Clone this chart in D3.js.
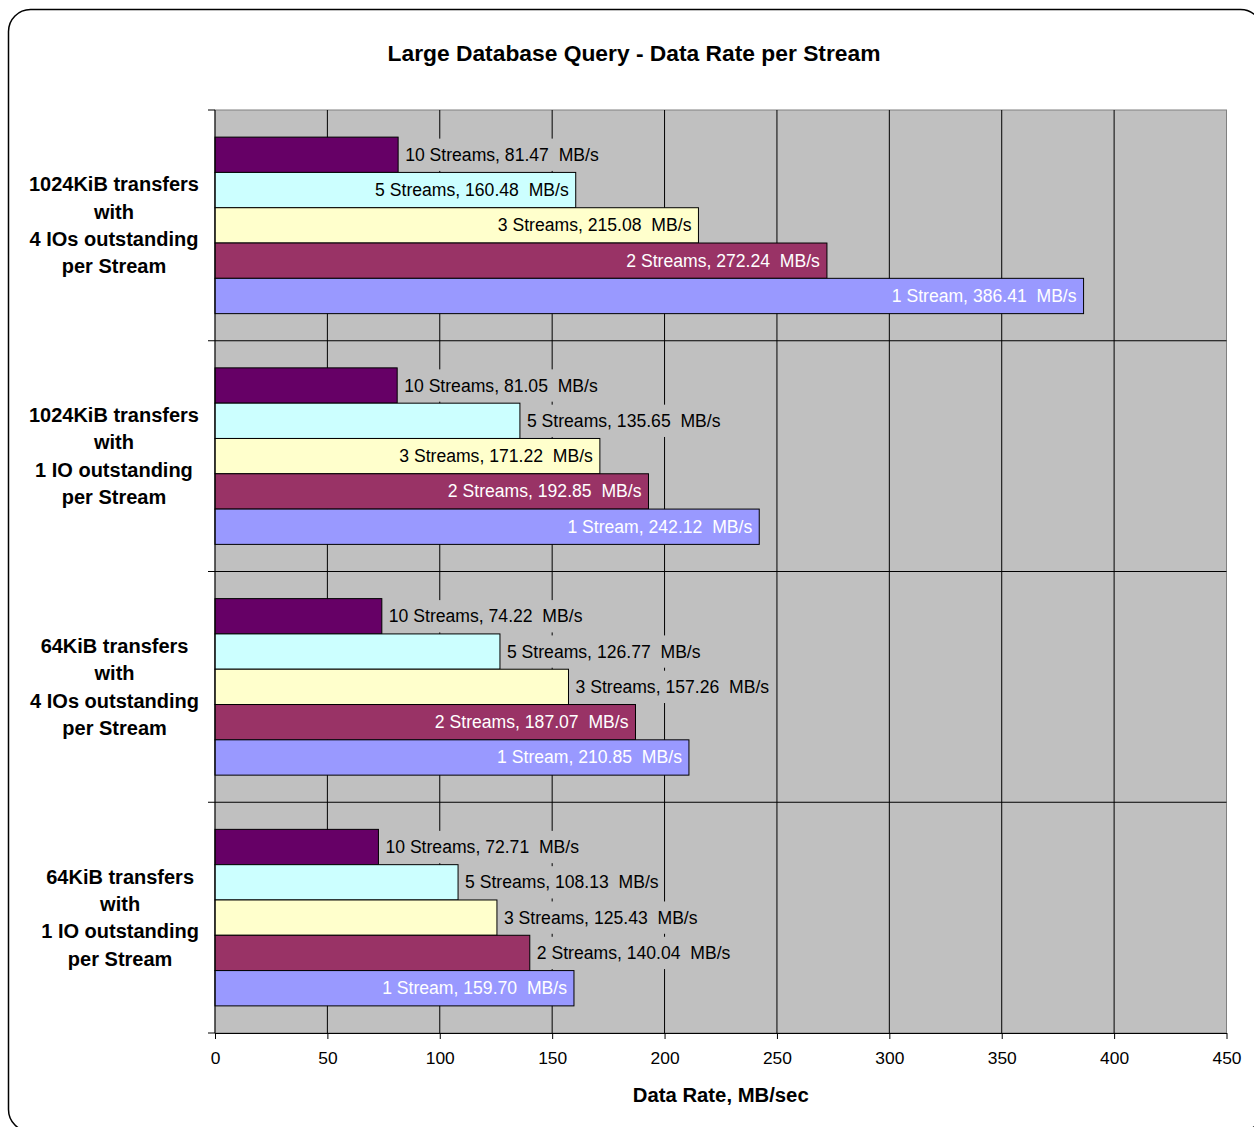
<!DOCTYPE html>
<html>
<head>
<meta charset="utf-8">
<script src="https://cdn.jsdelivr.net/npm/d3@7"></script>
<style>
  body { margin: 0; background: #fff; }
  svg { display: block; font-family: "Liberation Sans", Arial, sans-serif; }
</style>
</head>
<body>
<div id="chart"></div>
<script>
// groups top to bottom, each label split into lines
const groups = [
    ["1024KiB transfers", "with", "4 IOs outstanding", "per Stream"],
    ["1024KiB transfers", "with", "1 IO outstanding", "per Stream"],
    ["64KiB transfers", "with", "4 IOs outstanding", "per Stream"],
    ["64KiB transfers", "with", "1 IO outstanding", "per Stream"]
];

// series, drawn top to bottom inside each group
const seriesNames = ["10 Streams", "5 Streams", "3 Streams", "2 Streams", "1 Stream"];
const seriesColours = ["#660066", "#ccffff", "#ffffcc", "#993366", "#9999ff"];
const seriesTextInside = ["#000", "#000", "#000", "#fff", "#fff"];

// MB/s, one array per series, same order as groups
const streams10 = [81.47, 81.05, 74.22, 72.71];
const streams5 = [160.48, 135.65, 126.77, 108.13];
const streams3 = [215.08, 171.22, 157.26, 125.43];
const streams2 = [272.24, 192.85, 187.07, 140.04];
const streams1 = [386.41, 242.12, 210.85, 159.70];
const seriesValues = [streams10, streams5, streams3, streams2, streams1];

const xTicks = [0, 50, 100, 150, 200, 250, 300, 350, 400, 450];

// labels of shorter bars sit just past the bar end
const insideFrom = 158;

const W = 1254, H = 1127;
const plot = {left: 215, right: 1226.5, top: 110, bottom: 1033};
const plotFill = "#c0c0c0";

const svg = d3.select("#chart")
    .append("svg")
    .attr("width", W)
    .attr("height", H);

// outer frame
svg.append("rect")
    .attr("x", 8.5).attr("y", 9.5)
    .attr("width", 1254).attr("height", 1122)
    .attr("rx", 22).attr("ry", 22)
    .attr("fill", "#fff")
    .attr("stroke", "#000")
    .attr("stroke-width", 1.5);

// title
svg.append("text")
    .attr("x", 634).attr("y", 53)
    .attr("text-anchor", "middle")
    .attr("dominant-baseline", "central")
    .style("font-size", "22.8px")
    .style("font-weight", "bold")
    .text("Large Database Query - Data Rate per Stream");

// Scales
const x = d3.scaleLinear()
    .domain([0, 450])
    .range([plot.left, plot.right]);

const y = d3.scaleBand()
    .domain(d3.range(groups.length))
    .range([plot.top, plot.bottom]);

const ySub = d3.scaleBand()
    .domain(d3.range(seriesNames.length))
    .range([0, y.bandwidth()])
    .paddingOuter(0.768);

// plot background
svg.append("rect")
    .attr("x", plot.left).attr("y", plot.top)
    .attr("width", plot.right - plot.left)
    .attr("height", plot.bottom - plot.top)
    .attr("fill", plotFill)
    .attr("stroke", "#808080")
    .attr("stroke-width", 1);

// vertical gridlines
svg.append("g")
    .selectAll("line")
    .data(xTicks.slice(1, -1))
    .join("line")
    .attr("x1", d => x(d)).attr("x2", d => x(d))
    .attr("y1", plot.top).attr("y2", plot.bottom)
    .attr("stroke", "#000")
    .attr("stroke-width", 1);

// horizontal gridlines at group boundaries
svg.append("g")
    .selectAll("line")
    .data(d3.range(1, groups.length))
    .join("line")
    .attr("x1", plot.left).attr("x2", plot.right)
    .attr("y1", d => y(d)).attr("y2", d => y(d))
    .attr("stroke", "#000")
    .attr("stroke-width", 1);

// bars and labels
const flat = [];
groups.forEach((g, gi) => {
    seriesNames.forEach((s, si) => {
        flat.push({gi, si, value: seriesValues[si][gi]});
    });
});

svg.append("g")
    .selectAll("rect")
    .data(flat)
    .join("rect")
    .attr("x", x(0))
    .attr("y", d => y(d.gi) + ySub(d.si))
    .attr("width", d => x(d.value) - x(0))
    .attr("height", ySub.bandwidth())
    .attr("fill", d => seriesColours[d.si])
    .attr("stroke", "#000")
    .attr("stroke-width", 1);

const labelLayer = svg.append("g");
const labelBoxes = labelLayer.append("g");
const labels = labelLayer.append("g")
    .selectAll("text")
    .data(flat)
    .join("text")
    .attr("x", d => d.value >= insideFrom ? x(d.value) - 7 : x(d.value) + 7)
    .attr("y", d => y(d.gi) + ySub(d.si) + ySub.bandwidth() / 2)
    .attr("text-anchor", d => d.value >= insideFrom ? "end" : "start")
    .attr("dominant-baseline", "central")
    .attr("fill", d => d.value >= insideFrom ? seriesTextInside[d.si] : "#000")
    .style("font-size", "17.6px")
    .text(d => `${seriesNames[d.si]}, ${d.value.toFixed(2)}\u00a0 MB/s`);

// labels outside the bars get a box of the plot colour, hiding the grid
labels.filter(d => d.value < insideFrom).each(function (d) {
    const b = this.getBBox();
    labelBoxes.append("rect")
        .attr("x", b.x - 4)
        .attr("y", y(d.gi) + ySub(d.si) + 1.5)
        .attr("width", b.width + 8)
        .attr("height", ySub.bandwidth() - 3)
        .attr("fill", plotFill);
});

// left axis
const yAxis = svg.append("g");
yAxis.append("line")
    .attr("x1", plot.left).attr("x2", plot.left)
    .attr("y1", plot.top).attr("y2", plot.bottom)
    .attr("stroke", "#000");
yAxis.selectAll(".tick")
    .data(d3.range(groups.length + 1))
    .join("line")
    .attr("class", "tick")
    .attr("x1", plot.left - 7).attr("x2", plot.left)
    .attr("y1", d => d < groups.length ? y(d) : plot.bottom)
    .attr("y2", d => d < groups.length ? y(d) : plot.bottom)
    .attr("stroke", "#000");

// group labels, centred in a box whose right edge is fixed
const labelRight = 199;
const lineGap = 27.3;
groups.forEach((lines, gi) => {
    const t = svg.append("text")
        .style("font-size", "20px")
        .style("font-weight", "bold")
        .attr("text-anchor", "middle");
    const cy = y(gi) + y.bandwidth() / 2;
    lines.forEach((line, li) => {
        t.append("tspan")
            .attr("y", cy + (li - (lines.length - 1) / 2) * lineGap)
            .attr("dominant-baseline", "central")
            .text(line);
    });
    let maxW = 0;
    t.selectAll("tspan").each(function () {
        maxW = Math.max(maxW, this.getComputedTextLength());
    });
    t.selectAll("tspan").attr("x", labelRight - maxW / 2);
});

// bottom axis
const xAxis = svg.append("g")
    .attr("transform", `translate(0,${plot.bottom})`)
    .call(d3.axisBottom(x).tickValues(xTicks).tickSize(6).tickPadding(13).tickSizeOuter(0));
xAxis.select(".domain").attr("stroke", "#000");
xAxis.selectAll(".tick line").attr("stroke", "#000");
xAxis.selectAll(".tick text")
    .style("font-size", "17.4px")
    .style("font-family", "\"Liberation Sans\", Arial, sans-serif")
    .attr("fill", "#000");

svg.append("text")
    .attr("x", (plot.left + plot.right) / 2)
    .attr("y", 1095)
    .attr("text-anchor", "middle")
    .attr("dominant-baseline", "central")
    .style("font-size", "20.3px")
    .style("font-weight", "bold")
    .text("Data Rate, MB/sec");
</script>
</body>
</html>
